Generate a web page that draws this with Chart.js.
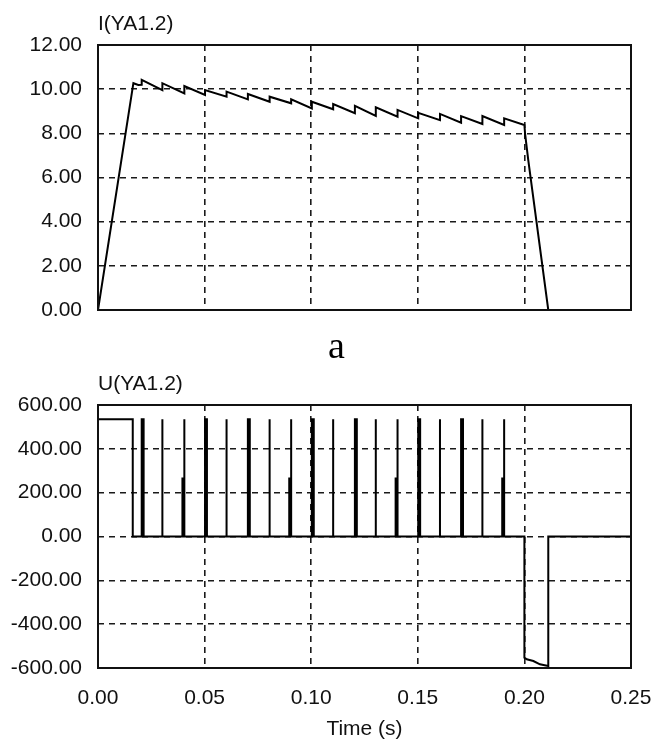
<!DOCTYPE html>
<html lang="en">
<head>
    <meta charset="UTF-8">
    <title>I(YA1.2) / U(YA1.2)</title>
    <style>
        body {
            margin: 0;
            background: #fff;
            font-family: "Liberation Sans", Arial, sans-serif;
        }
        #page {
            position: relative;
            width: 651px;
            height: 740px;
        }
        canvas {
            position: absolute;
            left: 0;
        }
        #chartI { top: 0; }
        #chartU { top: 370px; }
        #label {
            position: absolute;
            left: 328px;
            top: 326px;
            font-family: "Liberation Serif", "Times New Roman", serif;
            font-size: 38px;
            line-height: 1;
            color: #000;
        }
    </style>
    <script src="https://cdn.jsdelivr.net/npm/chart.js"></script>
</head>
<body>
<div id="page">
    <canvas id="chartI" width="651" height="330"></canvas>
    <canvas id="chartU" width="651" height="370"></canvas>
    <div id="label">a</div>
</div>
<script>
    // current through YA1.2 (A)
    const iTime = [0, 0.0166, 0.0189, 0.0205, 0.0205,
        0.0302, 0.0302, 0.0405, 0.0405, 0.0502, 0.0502, 0.0603, 0.0603,
        0.0703, 0.0703, 0.0805, 0.0805, 0.0906, 0.0906, 0.1003, 0.1003,
        0.1103, 0.1103, 0.1205, 0.1205, 0.1303, 0.1303, 0.1405, 0.1405,
        0.1502, 0.1502, 0.1604, 0.1604, 0.1703, 0.1703, 0.1803, 0.1803,
        0.1905, 0.1905, 0.2000, 0.2003, 0.2018, 0.2112];
    const iAmp = [0, 10.27, 10.19, 10.20, 10.42,
        9.96, 10.27, 9.81, 10.14, 9.74, 9.96, 9.66, 9.89,
        9.54, 9.78, 9.43, 9.66, 9.36, 9.54, 9.13, 9.43,
        9.09, 9.33, 8.91, 9.25, 8.79, 9.18, 8.75, 9.06,
        8.68, 8.93, 8.60, 8.88, 8.48, 8.78, 8.42, 8.78,
        8.38, 8.68, 8.38, 8.00, 6.80, 0];

    // voltage across YA1.2 (V)
    const uTime = [0, 0.0163, 0.0163,
        0.0205, 0.0205, 0.0214, 0.0214,
        0.0302, 0.0302, 0.0302,
        0.0396, 0.0396, 0.0405, 0.0405, 0.0405,
        0.0502, 0.0502, 0.0511, 0.0511,
        0.0603, 0.0603, 0.0603,
        0.0703, 0.0703, 0.0712, 0.0712,
        0.0805, 0.0805, 0.0805,
        0.0897, 0.0897, 0.0906, 0.0906, 0.0906,
        0.1003, 0.1003, 0.1012, 0.1012,
        0.1103, 0.1103, 0.1103,
        0.1205, 0.1205, 0.1214, 0.1214,
        0.1303, 0.1303, 0.1303,
        0.1396, 0.1396, 0.1405, 0.1405, 0.1405,
        0.1502, 0.1502, 0.1511, 0.1511,
        0.1604, 0.1604, 0.1604,
        0.1703, 0.1703, 0.1712, 0.1712,
        0.1803, 0.1803, 0.1803,
        0.1896, 0.1896, 0.1905, 0.1905, 0.1905,
        0.2000, 0.2000, 0.2011, 0.2042, 0.2073, 0.2112, 0.2112, 0.2500];
    const uVolt = [535, 535, 0,
        0, 535, 535, 0,
        0, 535, 0,
        0, 265, 265, 535, 0,
        0, 535, 535, 0,
        0, 535, 0,
        0, 535, 535, 0,
        0, 535, 0,
        0, 265, 265, 535, 0,
        0, 535, 535, 0,
        0, 535, 0,
        0, 535, 535, 0,
        0, 535, 0,
        0, 265, 265, 535, 0,
        0, 535, 535, 0,
        0, 535, 0,
        0, 535, 535, 0,
        0, 535, 0,
        0, 265, 265, 535, 0,
        0, -553, -560, -568, -583, -591, 0, 0];

    const timeTicks = [0, 0.05, 0.10, 0.15, 0.20, 0.25];
    const iTicks = [0, 2, 4, 6, 8, 10, 12];
    const uTicks = [-600, -400, -200, 0, 200, 400, 600];

    Chart.defaults.font.family = '"Liberation Sans", Arial, sans-serif';
    Chart.defaults.font.size = 21;
    Chart.defaults.color = '#111';

    // solid box around the plot area
    const framePlugin = {
        id: 'frame',
        afterDraw(chart) {
            const a = chart.chartArea;
            const ctx = chart.ctx;
            ctx.save();
            ctx.strokeStyle = '#111';
            ctx.lineWidth = 2;
            ctx.strokeRect(a.left, a.top, a.right - a.left, a.bottom - a.top);
            ctx.restore();
        }
    };

    function toPoints(xs, ys) {
        return xs.map((x, i) => ({ x: x, y: ys[i] }));
    }

    function gridOpts() {
        return { color: '#1a1a1a', lineWidth: 1.6, drawTicks: false };
    }

    // no extra room for overhanging tick labels, the plot box is fixed
    function noPad(s) {
        s.paddingLeft = 0;
        s.paddingRight = 0;
        s.paddingTop = 0;
        s.paddingBottom = 0;
    }

    function makeChart(id, cfg) {
        return new Chart(document.getElementById(id), {
            type: 'line',
            data: {
                datasets: [{
                    data: toPoints(cfg.xs, cfg.ys),
                    borderColor: '#000',
                    borderWidth: 2,
                    pointRadius: 0,
                    tension: 0,
                    fill: false
                }]
            },
            options: {
                responsive: false,
                animation: false,
                devicePixelRatio: 1,
                layout: { padding: { left: 0, right: 20, top: 0, bottom: cfg.padBottom } },
                plugins: {
                    legend: { display: false },
                    tooltip: { enabled: false },
                    title: {
                        display: true,
                        text: cfg.title,
                        align: 'start',
                        fullSize: false,
                        color: '#111',
                        font: { size: 21, weight: 'normal', lineHeight: 1 },
                        padding: cfg.titlePad
                    }
                },
                scales: {
                    x: {
                        type: 'linear',
                        min: 0,
                        max: 0.25,
                        afterBuildTicks: s => { s.ticks = timeTicks.map(v => ({ value: v })); },
                        afterFit: s => { s.height = cfg.xHeight; noPad(s); },
                        grid: gridOpts(),
                        border: { display: false, dash: [6, 5] },
                        ticks: {
                            display: cfg.showTime,
                            padding: 18,
                            maxRotation: 0,
                            callback: v => v.toFixed(2)
                        },
                        title: {
                            display: cfg.showTime,
                            text: 'Time (s)',
                            font: { size: 21, lineHeight: 1 },
                            padding: { top: 0, bottom: 0 }
                        }
                    },
                    y: {
                        min: cfg.ticks[0],
                        max: cfg.ticks[cfg.ticks.length - 1],
                        afterBuildTicks: s => { s.ticks = cfg.ticks.map(v => ({ value: v })); },
                        afterFit: s => { s.width = 98; noPad(s); },
                        grid: gridOpts(),
                        border: { display: false, dash: [6, 5] },
                        ticks: {
                            padding: 16,
                            callback: v => v.toFixed(2)
                        }
                    }
                }
            },
            plugins: [framePlugin]
        });
    }

    makeChart('chartI', {
        xs: iTime, ys: iAmp, ticks: iTicks,
        title: 'I(YA1.2)',
        titlePad: { top: 14, bottom: 10 },
        xHeight: 0, padBottom: 20, showTime: false
    });

    makeChart('chartU', {
        xs: uTime, ys: uVolt, ticks: uTicks,
        title: 'U(YA1.2)',
        titlePad: { top: 4, bottom: 10 },
        xHeight: 72, padBottom: 0, showTime: true
    });
</script>
</body>
</html>
